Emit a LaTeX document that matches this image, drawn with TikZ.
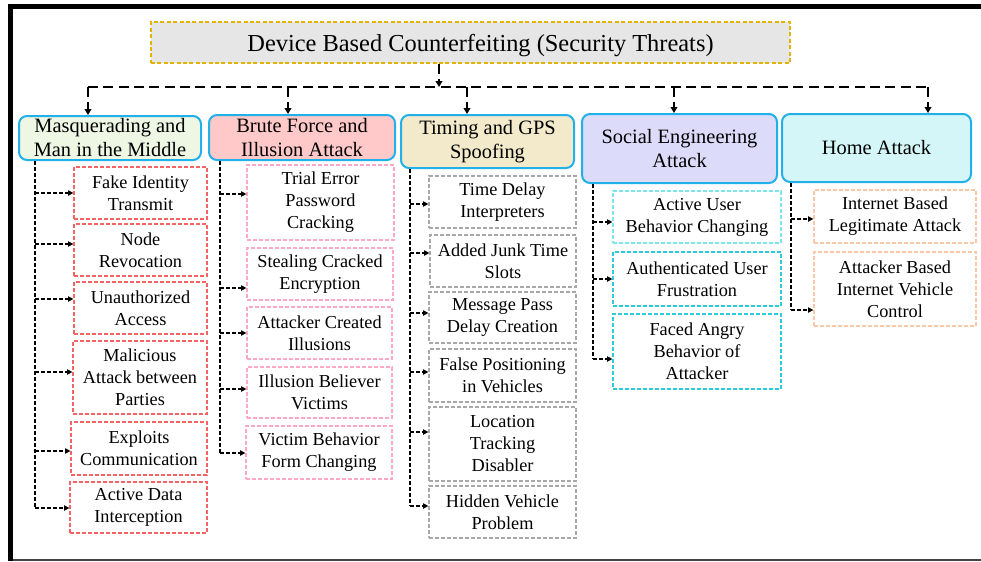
\documentclass[tikz,border=0pt]{standalone}
\usepackage{fontspec}
\setmainfont{Liberation Serif}
\usetikzlibrary{arrows.meta}

\definecolor{titlefill}{HTML}{E6E6E6}
\definecolor{titleedge}{HTML}{E2B400}
\definecolor{catedge}{HTML}{22B0E8}
\definecolor{fillA}{HTML}{EEF6E4}
\definecolor{fillB}{HTML}{FFC9C9}
\definecolor{fillC}{HTML}{F2EACB}
\definecolor{fillD}{HTML}{DCDCFA}
\definecolor{fillE}{HTML}{D5F6F8}
\definecolor{edgeA}{HTML}{F46464}
\definecolor{edgeB}{HTML}{FFA8C6}
\definecolor{edgeC}{HTML}{A8A8A8}
\definecolor{edgeD}{HTML}{2CCADA}
\definecolor{edgeDl}{HTML}{80E4EE}
\definecolor{edgeE}{HTML}{F8C8A6}
\definecolor{rulegray}{HTML}{444444}

% box from corner (x1,y1) to corner (x2,y2), in pixel units
\newcommand\mkbox[7]{%
  \node[#6, minimum width={(#4-#2)*0.75pt}, minimum height={(#5-#3)*0.75pt}]
    (#1) at ({(#2+#4)/2},{(#3+#5)/2}) {#7};}

\begin{document}
\begin{tikzpicture}[x=0.75pt,y=-0.75pt,
  titlebox/.style={draw=titleedge, fill=titlefill, line width=1.1pt,
    dash pattern=on 3pt off 1.8pt, inner sep=0pt,
    text height=17pt, text depth=4pt,
    font=\fontsize{18.3}{22}\selectfont},
  catbox/.style={draw=catedge, line width=1.5pt, rounded corners=6pt,
    inner sep=0pt, align=center, font=\fontsize{15.3}{18}\selectfont},
  subbox/.style={draw=#1, line width=0.9pt, dash pattern=on 3pt off 1.5pt,
    inner sep=0pt, align=center, font=\fontsize{13.7}{16.5}\selectfont},
  bus/.style={line width=1.9pt, dash pattern=on 7.5pt off 4pt},
  bustip/.style={bus, -{Triangle[length=4.5pt,width=5pt]}},
  trunk/.style={line width=0.9pt, dash pattern=on 3pt off 1.5pt},
  leaf/.style={trunk, -{Triangle[length=4pt,width=4pt]}}]

\useasboundingbox (0,0) rectangle (981,561);

% page frame
\fill[black] (8,4) rectangle (981,8.5);
\fill[black] (8,4) rectangle (13,561);
\draw[rulegray, line width=1.2pt] (13,560) -- (981,560);

% title
\mkbox{title}{151}{22}{790}{63}{titlebox}{\hspace*{15pt}Device Based Counterfeiting (Security Threats)}

% categories
\mkbox{c1}{19}{116}{201}{160}{catbox, fill=fillA}{Masquerading and\\Man in the Middle}
\mkbox{c2}{209}{115}{395}{160}{catbox, fill=fillB}{Brute Force and\\Illusion Attack}
\mkbox{c3}{401}{115}{574}{168}{catbox, fill=fillC}{Timing and GPS\\Spoofing}
\mkbox{c4}{582}{114}{777}{183}{catbox, fill=fillD}{Social Engineering\\Attack}
\mkbox{c5}{782}{114}{971}{182}{catbox, fill=fillE}{Home Attack}

% bus from the title to the categories
\coordinate (d0) at (439,87);
\coordinate (d1) at (88,87);
\coordinate (d2) at (288,87);
\coordinate (d3) at (467,87);
\coordinate (d4) at (674,87);
\coordinate (d5) at (928,87);
\draw[bustip] (title.south -| d0) -- (d0);
\draw[bus] (d1) -- (d5);
\draw[bustip] (d1) -- (c1.north -| d1);
\draw[bustip] (d2) -- (c2.north -| d2);
\draw[bustip] (d3) -- (c3.north -| d3);
\draw[bustip] (d4) -- (c4.north -| d4);
\draw[bustip] (d5) -- (c5.north -| d5);

% column 1
\mkbox{s11}{74}{167}{207}{219}{subbox=edgeA}{Fake Identity\\Transmit}
\mkbox{s12}{74}{224}{207}{276}{subbox=edgeA}{Node\\Revocation}
\mkbox{s13}{74}{282}{207}{334}{subbox=edgeA}{Unauthorized\\Access}
\mkbox{s14}{73}{341}{207}{414}{subbox=edgeA}{Malicious\\Attack between\\Parties}
\mkbox{s15}{71}{422}{207}{475}{subbox=edgeA}{Exploits\\Communication}
\mkbox{s16}{70}{482}{207}{533}{subbox=edgeA}{Active Data\\Interception}

% column 2
\mkbox{s21}{247}{165}{394}{240}{subbox=edgeB}{Trial Error\\Password\\Cracking}
\mkbox{s22}{247}{248}{393}{300}{subbox=edgeB}{Stealing Cracked\\Encryption}
\mkbox{s23}{247}{307}{392}{359}{subbox=edgeB}{Attacker Created\\Illusions}
\mkbox{s24}{247}{367}{392}{418}{subbox=edgeB}{Illusion Believer\\Victims}
\mkbox{s25}{246}{426}{392}{479}{subbox=edgeB}{Victim Behavior\\Form Changing}

% column 3
\mkbox{s31}{429}{176}{576}{228}{subbox=edgeC}{Time Delay\\Interpreters}
\mkbox{s32}{430}{235}{576}{287}{subbox=edgeC}{Added Junk Time\\Slots}
\mkbox{s33}{429}{292}{576}{343}{subbox=edgeC}{Message Pass\\Delay Creation}
\mkbox{s34}{429}{349}{576}{402}{subbox=edgeC}{False Positioning\\in Vehicles}
\mkbox{s35}{429}{407}{576}{481}{subbox=edgeC}{Location\\Tracking\\Disabler}
\mkbox{s36}{429}{486}{576}{538}{subbox=edgeC}{Hidden Vehicle\\Problem}

% column 4
\mkbox{s41}{613}{191}{781}{243}{subbox=edgeDl}{Active User\\Behavior Changing}
\mkbox{s42}{613}{252}{781}{306}{subbox=edgeD}{Authenticated User\\Frustration}
\mkbox{s43}{613}{314}{781}{389}{subbox=edgeD}{Faced Angry\\Behavior of\\Attacker}

% column 5
\mkbox{s51}{814}{190}{976}{243}{subbox=edgeE}{Internet Based\\Legitimate Attack}
\mkbox{s52}{814}{252}{976}{326}{subbox=edgeE}{Attacker Based\\Internet Vehicle\\Control}

% trunk lines and the heights of their branches
\coordinate (t1) at (35,0);
\coordinate (t2) at (220,0);
\coordinate (t3) at (410,0);
\coordinate (t4) at (593,0);
\coordinate (t5) at (791,0);

\foreach \n/\y in {11/193,12/244,13/299,14/372,15/451,16/508,
                   21/194,22/288,23/333,24/389,25/453,
                   31/204,32/253,33/313,34/372,35/432,36/506,
                   41/222,42/279,43/359,
                   51/219,52/310}
  \coordinate (b\n) at (0,\y);

\draw[trunk] (c1.south -| t1) -- (t1 |- b16);
\draw[trunk] (c2.south -| t2) -- (t2 |- b25);
\draw[trunk] (c3.south -| t3) -- (t3 |- b36);
\draw[trunk] (c4.south -| t4) -- (t4 |- b43);
\draw[trunk] (c5.south -| t5) -- (t5 |- b52);

\foreach \c/\list in {1/{1,2,3,4,5,6},2/{1,2,3,4,5},3/{1,2,3,4,5,6},4/{1,2,3},5/{1,2}}
  \foreach \k in \list
    \draw[leaf] (t\c |- b\c\k) -- (s\c\k.west |- b\c\k);

\end{tikzpicture}
\end{document}
